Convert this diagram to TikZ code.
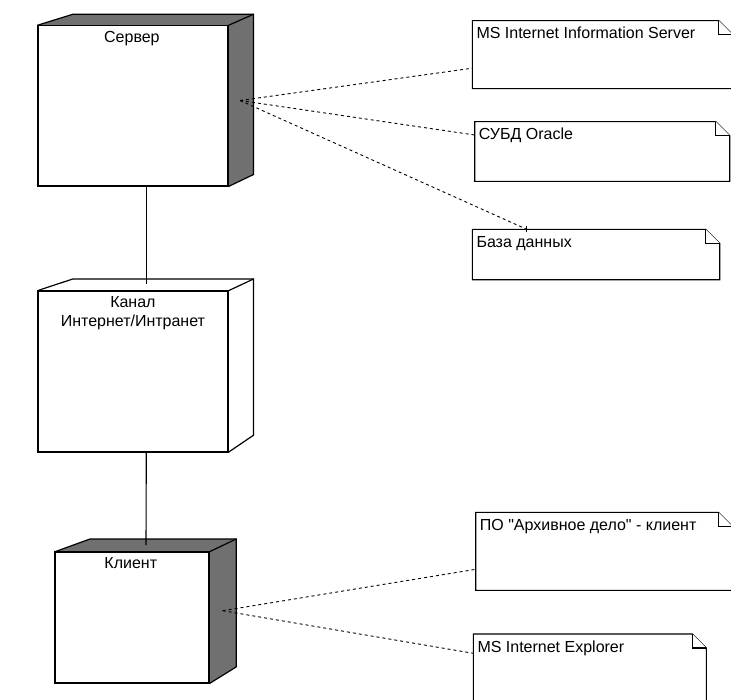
\documentclass[tikz,border=0pt]{standalone}
\usepackage{fontspec}
\newfontfamily\lbfont{Liberation Sans}
\usetikzlibrary{calc}
\definecolor{nodegray}{RGB}{112,112,112}
\newcommand{\umlnote}[6]{%
  \node[notearea, minimum width=#4bp, minimum height=#5bp] (#1) at (#2,#3) {};
  \draw[noteline] (#1.north west) -- ($(#1.north east)+(-14,0)$) -- ($(#1.north east)+(0,14)$) -- (#1.south east) -- (#1.south west) -- cycle;
  \draw[noteline] ($(#1.north east)+(-14,0)$) |- ($(#1.north east)+(0,14)$);
  \node[lbl, anchor=base west] (#1-t) at ($(#1.north west)+(4,18)$) {#6};
}
\begin{document}
\begin{tikzpicture}[x=1bp,y=-1bp,
  face/.style={draw=black, line width=1.2bp, fill=white, rectangle, inner sep=0pt, anchor=north west},
  edge3d/.style={draw=black, line width=1.2bp, line join=miter},
  notearea/.style={rectangle, inner sep=0pt, anchor=north west, draw=none},
  noteline/.style={draw=black, line width=1.1bp, fill=white},
  lbl/.style={inner sep=0pt, font=\lbfont\fontsize{16bp}{19bp}\selectfont},
  dep/.style={draw=black, line width=0.9bp, dash pattern=on 3bp off 3bp},
  link/.style={draw=black, line width=1.1bp}
]
\useasboundingbox (0,0) rectangle (731,700);

% ---- Server
\node[face, minimum width=190bp, minimum height=160bp] (srv) at (37.3,25.3) {};
\fill[nodegray] (srv.north west) -- ++(35.4,-11) -- ($(srv.north east)+(25,-11)$) -- (srv.north east) -- cycle;
\fill[nodegray] (srv.north east) -- ++(25,-11) -- ($(srv.south east)+(25,-12)$) -- (srv.south east) -- cycle;
\draw[edge3d] (srv.north west) -- ++(35.4,-11) -- ($(srv.north east)+(25,-11)$) -- ($(srv.south east)+(25,-12)$) -- (srv.south east);
\draw[edge3d] (srv.north east) -- ++(25,-11);
\draw[edge3d] (srv.north west) rectangle (srv.south east);
\node[lbl, anchor=base] (srv-l) at ($(srv.north)+(-1,17)$) {Сервер};

% ---- Channel
\node[face, minimum width=190bp, minimum height=160.3bp] (chn) at (37.3,290.7) {};
\draw[edge3d] (chn.north west) -- ++(35.4,-11.7) -- ($(chn.north east)+(25,-11.7)$) -- ($(chn.south east)+(25,-17)$) -- (chn.south east);
\draw[edge3d] (chn.north east) -- ++(25,-11.7);
\draw[edge3d] (chn.north west) rectangle (chn.south east);
\node[lbl, anchor=base] (chn-l1) at ($(chn.north)+(0,17)$) {Канал};
\node[lbl, anchor=base] (chn-l2) at ($(chn.north)+(0,36)$) {Интернет/Интранет};

% ---- Client
\node[face, minimum width=153.3bp, minimum height=130.6bp] (cli) at (55,551.7) {};
\fill[nodegray] (cli.north west) -- ++(35,-12.7) -- ($(cli.north east)+(26.7,-12.7)$) -- (cli.north east) -- cycle;
\fill[nodegray] (cli.north east) -- ++(26.7,-12.7) -- ($(cli.south east)+(26.7,-16.6)$) -- (cli.south east) -- cycle;
\draw[edge3d] (cli.north west) -- ++(35,-12.7) -- ($(cli.north east)+(26.7,-12.7)$) -- ($(cli.south east)+(26.7,-16.6)$) -- (cli.south east);
\draw[edge3d] (cli.north east) -- ++(26.7,-12.7);
\draw[edge3d] (cli.north west) rectangle (cli.south east);
\node[lbl, anchor=base] (cli-l) at ($(cli.north)+(-1.5,17)$) {Клиент};

% ---- Notes
\umlnote{iis}{472.3}{20.7}{260}{67.6}{MS Internet Information Server}
\umlnote{ora}{474.7}{121.7}{254.6}{59.3}{СУБД Oracle}
\umlnote{db}{472.3}{229.3}{247}{50}{База данных}
\umlnote{po}{475.7}{512.3}{256.3}{77.7}{ПО "Архивное дело" - клиент}
\umlnote{ie}{473.3}{634}{232.7}{80}{MS Internet Explorer}

% ---- Solid links
\coordinate (sa) at ($(srv.south west)+(109,0)$);
\coordinate (sb) at ($(chn.north west)+(109,-6.7)$);
\coordinate (ca) at ($(chn.south west)+(109,0)$);
\coordinate (cb) at ($(cli.north west)+(91,-6.7)$);
\draw[link] (sa) -- (sb);
\draw[link] (ca) -- (cb);

% ---- Dependencies
\coordinate (sport) at (240,100.5);
\coordinate (iisin) at ($(iis.north west)+(0,47.5)$);
\coordinate (orain) at ($(ora.north west)+(0,13.3)$);
\coordinate (dbin) at ($(db.north west)+(54.4,0)$);
\draw[dep] (sport) -- (iisin);
\draw[dep] (sport) -- (orain);
\draw[dep] (sport) -- (dbin);
\draw[line width=0.9bp] ($(dbin)+(0,-3)$) -- ($(dbin)+(0,3)$);

\coordinate (cport) at (222.7,610.7);
\coordinate (poin) at ($(po.north west)+(0,57)$);
\coordinate (iein) at ($(ie.north west)+(0,19.3)$);
\draw[dep] (cport) -- (poin);
\draw[dep] (cport) -- (iein);
\end{tikzpicture}
\end{document}
